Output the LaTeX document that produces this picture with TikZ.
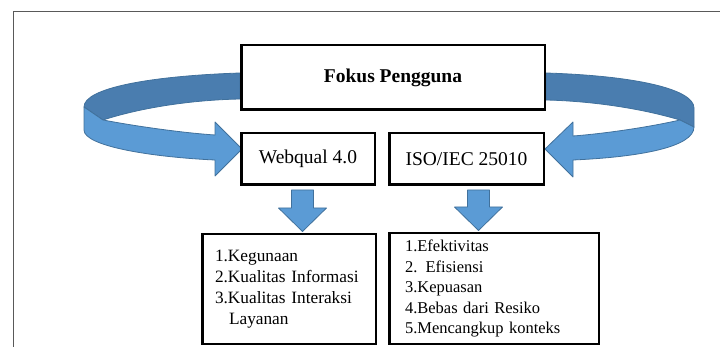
\documentclass[tikz,border=0pt]{standalone}
\usepackage{fontspec}
\setmainfont{Liberation Serif}
\usetikzlibrary{calc}
\usetikzlibrary{positioning}
\definecolor{mblue}{HTML}{5B9BD5}
\definecolor{dblue}{HTML}{4A7DAF}
\definecolor{eblue}{HTML}{41719C}
\tikzset{box/.style = {draw, line width = 2.5, fill = white, inner sep = 0}}
\tikzset{ribbon/.style = {draw = eblue, line width = 0.8, line join = round}}
\newcommand{\blockdown}[2]{%
  \draw [ribbon, fill = mblue] ($(#1) + (-11, 4)$) -- ($(#2) + (-11, -25)$)
    -- ($(#2) + (-24, -25)$) -- ($(#2) + (0, -1.5)$) -- ($(#2) + (24, -25)$)
    -- ($(#2) + (11, -25)$) -- ($(#1) + (11, 4)$) -- cycle;}

\begin{document}
\begin{tikzpicture}[x=1pt, y=-1pt]
      \useasboundingbox (0, 0) rectangle (720, 347);
      \draw [black!65, line width = 1] (13, 347) -- (13, 12) -- (720, 12);

      % curved arrows
      \draw [ribbon, fill = dblue] (240, 73) .. controls (150, 76) and (84, 88) .. (84, 107)
        -- (103, 120) .. controls (140, 108) and (190, 100) .. (240, 99) -- cycle;
      \draw [ribbon, fill = mblue] (84, 107) -- (103, 120) .. controls (140, 127) and (185, 133) .. (215, 135)
        -- (215, 122) -- (242, 149) -- (215, 176) -- (215, 160)
        .. controls (150, 157) and (84, 146) .. (84, 130) -- cycle;
      \draw [ribbon, fill = dblue] (546, 73) .. controls (640, 76) and (694, 90) .. (694, 108)
        -- (694, 127) -- (680, 120) .. controls (640, 108) and (590, 101) .. (546, 100) -- cycle;
      \draw [ribbon, fill = mblue] (680, 120) .. controls (645, 128) and (600, 134) .. (573, 136)
        -- (573, 122) -- (545, 149) -- (573, 177) -- (573, 160)
        .. controls (640, 157) and (694, 147) .. (694, 127) -- cycle;

      \node [box, minimum width = 303.5, minimum height = 64.5, font = \fontsize{19.5}{23}\selectfont\bfseries]
        (fokus) at (393, 77.5) {Fokus Pengguna};
      \node [box, minimum width = 133.5, minimum height = 51.5, font = \fontsize{19.5}{23}\selectfont]
        (webqual) at (308, 159) {Webqual 4.0};
      \node [box, minimum width = 154.5, minimum height = 51.5, font = \fontsize{19.5}{23}\selectfont]
        (iso) at (466.5, 159) {ISO/IEC 25010};
      \node [box, minimum height = 109.5, inner xsep = 12.75, text width = 148, align = left,
        font = \fontsize{17.3}{21}\selectfont] (listweb) at (289, 289)
        {1.Kegunaan\\2.Kualitas Informasi\\3.Kualitas Interaksi\\\hspace*{14pt}Layanan};
      \node [box, minimum height = 110.5, inner xsep = 15.75, text width = 178, align = left,
        font = \fontsize{16.5}{20.5}\selectfont] (listiso) at (494, 288.5)
        {1.Efektivitas\\2. Efisiensi\\3.Kepuasan\\4.Bebas dari Resiko\\5.Mencangkup konteks};

      \coordinate (webtop) at (302.5, 0 |- webqual.south);
      \coordinate (webtip) at (302.5, 0 |- listweb.north);
      \coordinate (isotop) at (478.5, 0 |- iso.south);
      \coordinate (isotip) at (478.5, 0 |- listiso.north);
      \blockdown{webtop}{webtip}
      \blockdown{isotop}{isotip}

    \end{tikzpicture}
\end{document}
